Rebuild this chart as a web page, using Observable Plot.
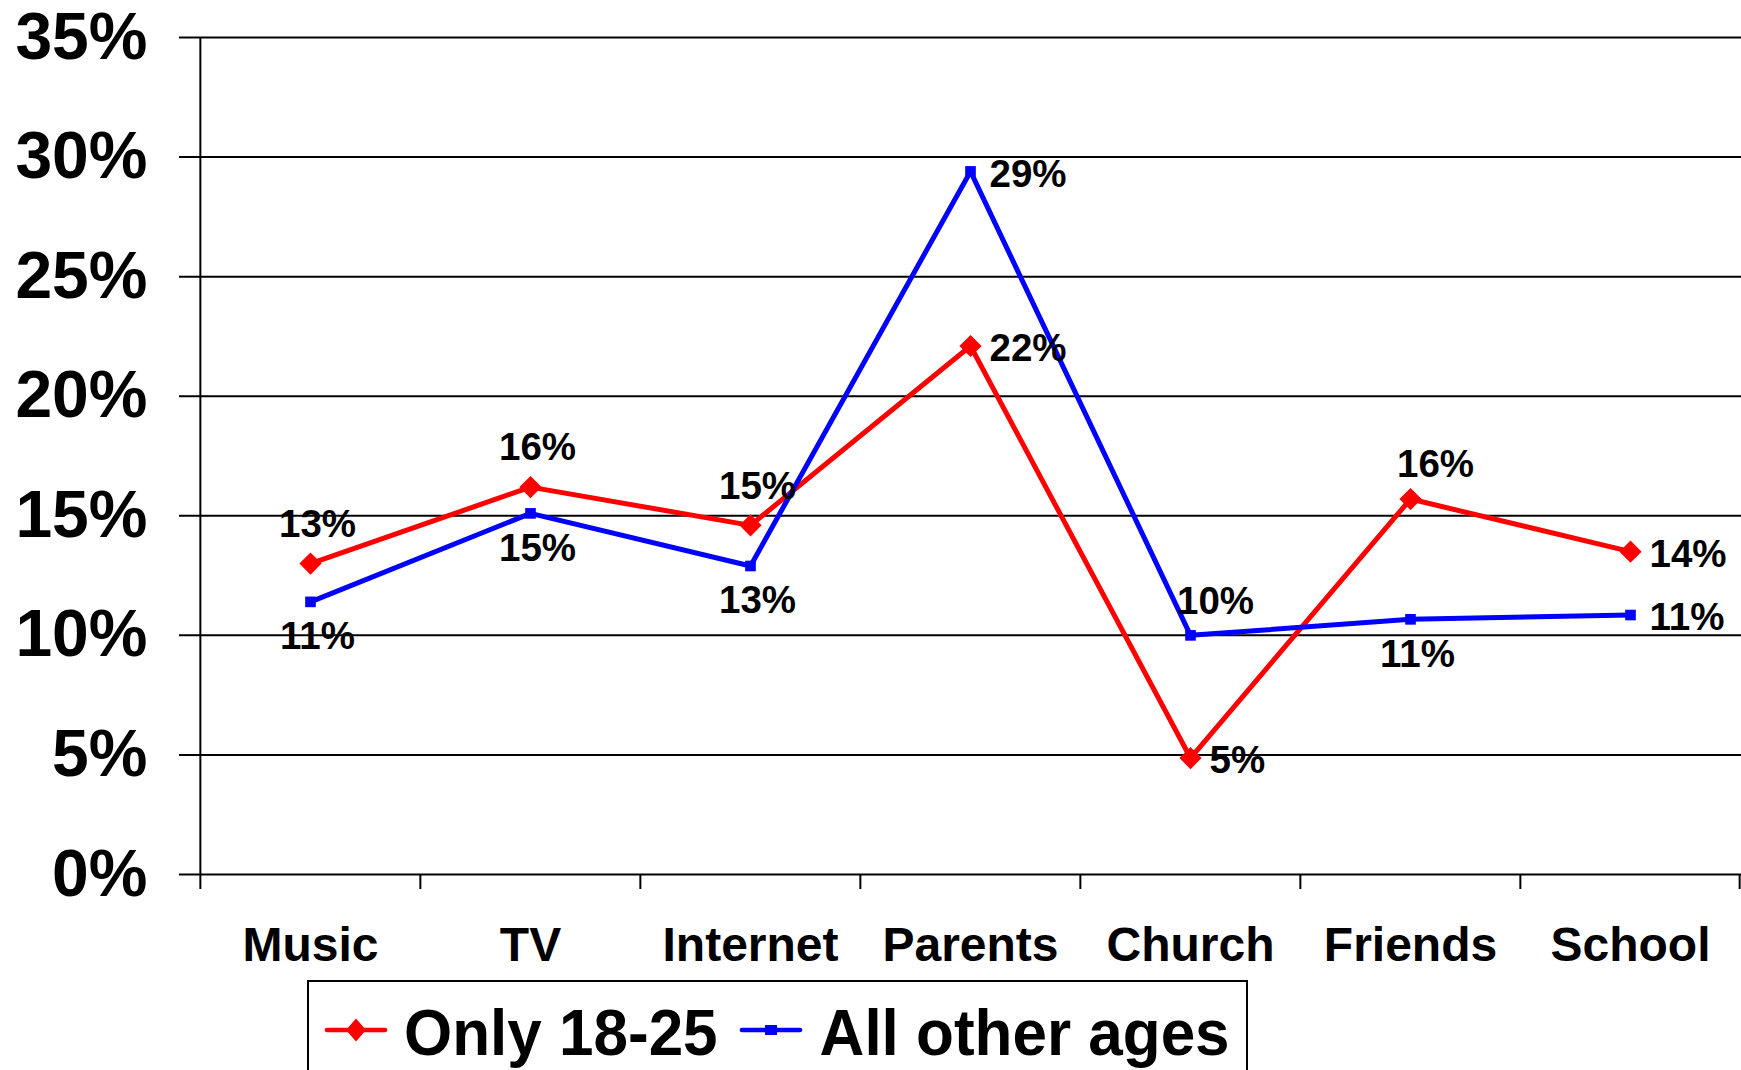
<!DOCTYPE html>
<html>
<head>
<meta charset="utf-8">
<script src="https://cdn.jsdelivr.net/npm/d3@7"></script>
<script src="https://cdn.jsdelivr.net/npm/@observablehq/plot@0.6"></script>
<style>
  html, body { margin: 0; padding: 0; background: #fff; overflow: hidden; }
  body { width: 1741px; height: 1070px; position: relative; font-family: "Liberation Sans", Arial, sans-serif; font-weight: bold; }
  #chart svg { display: block; }
  #legend {
    position: absolute; left: 307px; top: 980px; width: 941px; height: 100px;
    border: 2px solid #000; box-sizing: border-box; background: #fff;
    display: flex; align-items: center; padding-left: 15px;
  }
  #legend .item { display: flex; align-items: center; }
  #legend .label { font-size: 62px; line-height: 1; position: relative; top: 3px; color: #000; white-space: nowrap; display: inline-block; transform: scaleY(1.06); }
  #legend svg { display: block; }
</style>
</head>
<body>
<div id="chart"></div>
<div id="legend"></div>
<script>
// ---- data ----
const categories = ["Music", "TV", "Internet", "Parents", "Church", "Friends", "School"];
const seriesNames = ["Only 18-25", "All other ages"];
const only1825 = [13.0, 16.2, 14.6, 22.1, 4.87, 15.7, 13.5];
const allOtherAges = [11.4, 15.1, 12.9, 29.4, 10.0, 10.67, 10.85];
const yTicks = [0, 5, 10, 15, 20, 25, 30, 35];

// ---- label placement (style) ----
const redPlace = ["above", "above", "above", "right", "right", "aboveRight", "right"];
const bluePlace = ["below", "below", "below", "right", "aboveRight", "below", "right"];
const colors = ["#ff0000", "#0000ff"];

const W = 1741, H = 980, mL = 199, mR = 0, mT = 37, mB = H - 874;
const step = (W - mL - mR) / categories.length;

const rows = categories.flatMap((c, i) => [
  {category: c, series: seriesNames[0], value: only1825[i], place: redPlace[i]},
  {category: c, series: seriesNames[1], value: allOtherAges[i], place: bluePlace[i]}
]);
const red = rows.filter(d => d.series === seriesNames[0]);
const blue = rows.filter(d => d.series === seriesNames[1]);
const fmt = d => Math.round(d.value) + "%";
const textOpts = {x: "category", y: "value", text: fmt, fontSize: 38.5, fontWeight: "bold", fill: "#000", lineAnchor: "middle"};
const placeOpts = {
  above: {textAnchor: "middle", dx: 7, dy: -39},
  below: {textAnchor: "middle", dx: 7, dy: 35},
  right: {textAnchor: "start", dx: 19, dy: 3},
  aboveRight: {textAnchor: "middle", dx: 25, dy: -34}
};
const labelMarks = Object.entries(placeOpts).map(([p, o]) =>
  Plot.text(rows.filter(d => d.place === p), {...textOpts, ...o})
);

const lineStyle = {stroke: "#000", strokeWidth: 2};
const chart = Plot.plot({
  width: W, height: H,
  marginLeft: mL, marginRight: mR, marginTop: mT, marginBottom: mB,
  style: {fontFamily: "Liberation Sans, Arial, sans-serif", fontWeight: "bold", color: "#000", background: "#fff", overflow: "visible"},
  x: {type: "point", domain: categories, padding: 0.5, label: null},
  y: {domain: [0, 35], label: null},
  marks: [
    Plot.ruleY(yTicks, {...lineStyle, insetLeft: -20}),
    Plot.ruleX([categories[0]], {...lineStyle, dx: -step / 2, y1: 35, y2: 0, insetBottom: -15}),
    Plot.ruleX(categories.slice(1), {...lineStyle, dx: -step / 2, y1: 0, y2: 0, insetBottom: -15}),
    Plot.ruleX([categories[categories.length - 1]], {...lineStyle, dx: step / 2 - 1, y1: 0, y2: 0, insetBottom: -15}),
    Plot.axisY({ticks: yTicks, tickSize: 0, tickPadding: 52, tickFormat: d => d + "%", fontSize: 66, fontWeight: "bold", label: null}),
    Plot.axisX({tickSize: 0, tickPadding: 52, fontSize: 48, fontWeight: "bold", label: null}),
    Plot.line(red, {x: "category", y: "value", stroke: colors[0], strokeWidth: 5}),
    Plot.dot(red, {x: "category", y: "value", symbol: "diamond2", r: 10, fill: colors[0], stroke: "none"}),
    Plot.line(blue, {x: "category", y: "value", stroke: colors[1], strokeWidth: 5}),
    Plot.dot(blue, {x: "category", y: "value", symbol: "square", r: 6, fill: colors[1], stroke: "none"}),
    ...labelMarks
  ]
});
document.getElementById("chart").appendChild(chart);

// ---- legend ----
const legend = document.getElementById("legend");
function swatch(color, kind) {
  const ns = "http://www.w3.org/2000/svg";
  const s = document.createElementNS(ns, "svg");
  s.setAttribute("width", 64); s.setAttribute("height", 30);
  const l = document.createElementNS(ns, "line");
  l.setAttribute("x1", 3); l.setAttribute("x2", 61); l.setAttribute("y1", 15); l.setAttribute("y2", 15);
  l.setAttribute("stroke", color); l.setAttribute("stroke-width", 4.7); l.setAttribute("stroke-linecap", "round");
  s.appendChild(l);
  const m = document.createElementNS(ns, "path");
  m.setAttribute("fill", color);
  m.setAttribute("d", kind === "diamond" ? "M32,3.5L42,15L32,26.5L22,15Z" : "M26,10H38V20H26Z");
  s.appendChild(m);
  return s;
}
seriesNames.forEach((name, i) => {
  const item = document.createElement("div");
  item.className = "item";
  item.style.marginLeft = i === 0 ? "0px" : "21px";
  item.appendChild(swatch(colors[i], i === 0 ? "diamond" : "square"));
  const t = document.createElement("span");
  t.className = "label";
  t.style.marginLeft = i === 0 ? "16px" : "17px";
  t.textContent = name;
  item.appendChild(t);
  legend.appendChild(item);
});
</script>
</body>
</html>
